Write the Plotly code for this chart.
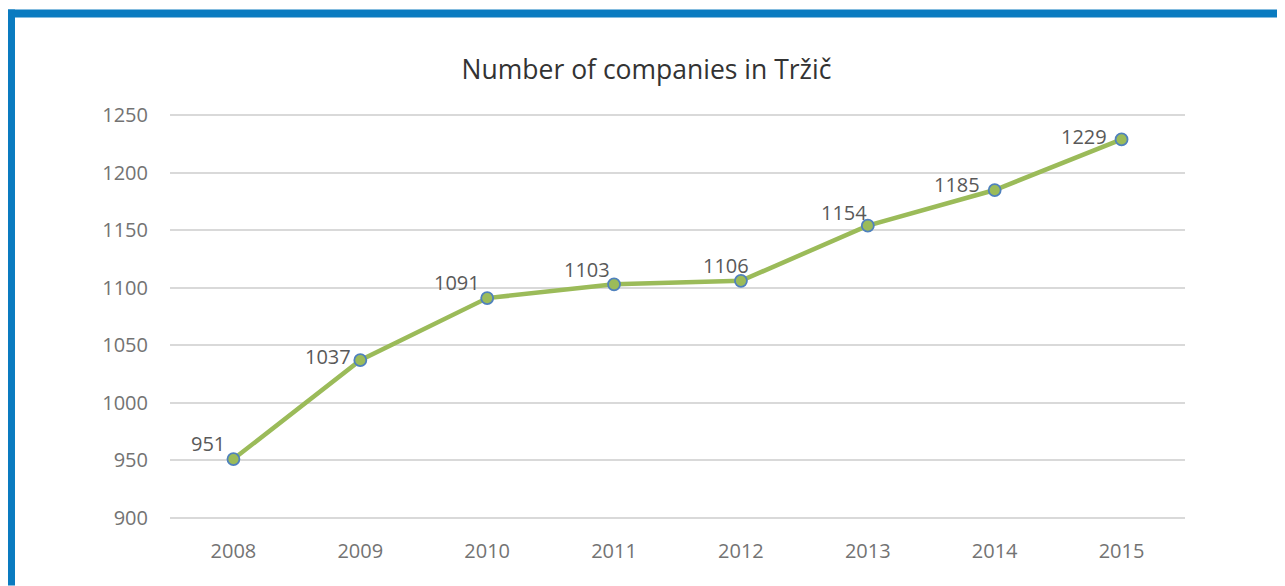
import plotly.graph_objects as go

years = ["2008", "2009", "2010", "2011", "2012", "2013", "2014", "2015"]
companies = [951, 1037, 1091, 1103, 1106, 1154, 1185, 1229]
y_ticks = [900, 950, 1000, 1050, 1100, 1150, 1200, 1250]

# label placement (pixel shifts of the label's right edge / vertical centre from the point)
label_dx = [-7, -8, -6, -3, 9, 0, -14, -14]
label_dy = [16, 3.5, 16, 14.5, 15.5, 13.5, 6, 3]

OFF = 8  # page body margin
Y0, Y1, PAD = 900, 1250, 2
scale = (518 - 115) / (Y1 - Y0)
W, H = 1285 - OFF, 586 - OFF
L, R = 170 - OFF, 100
T = 115 - OFF - PAD * scale
B = 68 - PAD * scale
pw, ph = W - L - R, H - T - B

def px(x):
    return (x - OFF - L) / pw

def py(y):
    return (H - B - (y - OFF)) / ph

fig = go.Figure()
fig.add_trace(go.Scatter(
    x=years, y=companies, mode="lines+markers",
    line=dict(color="#9BBB59", width=4.5),
    marker=dict(size=12, color="#9BBB59", line=dict(color="#4F81BD", width=1.8)),
    cliponaxis=False, showlegend=False,
))

annotations = [
    dict(x=i, y=v, xref="x", yref="y", text=str(v), showarrow=False,
         xanchor="right", yanchor="middle", xshift=dx + 1, yshift=dy,
         font=dict(family="Open Sans", size=20, color="#595959"))
    for i, (v, dx, dy) in enumerate(zip(companies, label_dx, label_dy))
]

frame = "#0A7BC0"
shapes = [
    dict(type="rect", xref="paper", yref="paper", x0=px(6), x1=px(1285), y0=py(9), y1=py(17),
         fillcolor=frame, line_width=0, layer="above"),
    dict(type="rect", xref="paper", yref="paper", x0=px(6), x1=px(15), y0=py(9), y1=py(586),
         fillcolor=frame, line_width=0, layer="above"),
    dict(type="rect", xref="paper", yref="paper", x0=px(1283.5), x1=px(1285), y0=py(9), y1=py(586),
         fillcolor=frame, line_width=0, layer="above"),
]

fig.update_layout(
    width=W, height=H,
    margin=dict(l=L, r=R, t=T, b=B),
    paper_bgcolor="white", plot_bgcolor="white",
    title=dict(text="Number of companies in Tržič", x=0.5, xanchor="center",
               y=1 - (70 - OFF) / H, yanchor="middle",
               font=dict(family="Open Sans", size=26.5, color="#333333")),
    xaxis=dict(type="category", range=[-0.5, 7.5], showgrid=False, zeroline=False,
               showline=False, ticks="", ticklabelstandoff=int(round(15 + PAD * scale)),
               tickfont=dict(family="Open Sans", size=20, color="#737373")),
    yaxis=dict(range=[Y0 - PAD, Y1 + PAD], tickvals=y_ticks, showgrid=True, gridcolor="#D9D9D9",
               gridwidth=1.5, zeroline=False, showline=False, ticks="",
               ticklabelstandoff=21,
               tickfont=dict(family="Open Sans", size=20, color="#737373")),
    shapes=shapes,
    annotations=annotations,
    font=dict(family="Open Sans"),
)

fig.write_html("out.html")
